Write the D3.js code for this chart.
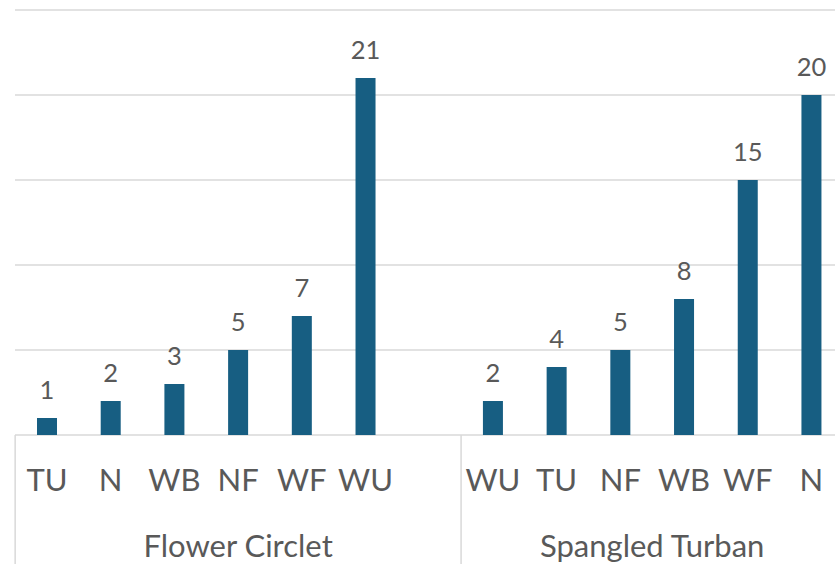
<!DOCTYPE html>
<html>
<head>
<meta charset="utf-8">
<script src="https://cdn.jsdelivr.net/npm/d3@7"></script>
<style>
  html, body { margin: 0; padding: 0; background: #fff; }
  svg { display: block; font-family: Lato, "Open Sans", sans-serif; }
</style>
</head>
<body>
<div id="chart"></div>
<script>
// ********** GROUPED BAR CHART **********

// Data
const groupNames = ['Flower Circlet', 'Spangled Turban'];
const flowerCats = ['TU', 'N', 'WB', 'NF', 'WF', 'WU', ''];
const flowerVals = [1, 2, 3, 5, 7, 21, null];
const turbanCats = ['WU', 'TU', 'NF', 'WB', 'WF', 'N'];
const turbanVals = [2, 4, 5, 8, 15, 20];
const yTicks = [0, 5, 10, 15, 20, 25];

const width = 835,
      height = 564;

const barColor = '#175e82',
      gridColor = '#d9d9d9',
      textColor = '#595959';

// Flatten into one row per slot
const rows = [];
flowerCats.forEach((c, i) => rows.push({ group: groupNames[0], cat: c, value: flowerVals[i], key: `${groupNames[0]}|${c}|${i}` }));
turbanCats.forEach((c, i) => rows.push({ group: groupNames[1], cat: c, value: turbanVals[i], key: `${groupNames[1]}|${c}|${i}` }));

const svg = d3.select('#chart')
    .append('svg')
    .attr('width', width)
    .attr('height', height);

// Scales (plot runs past the right edge, like the cropped original)
const x = d3.scaleBand()
    .domain(rows.map(d => d.key))
    .range([15.15, 843.3])
    .paddingInner(0.686)
    .paddingOuter(0.343);

const step = x.step();

const y = d3.scaleLinear()
    .domain([0, 25])
    .range([435, 10]);

// Gridlines
svg.append('g')
    .attr('class', 'grid')
    .selectAll('line')
    .data(yTicks)
    .enter()
    .append('line')
    .attr('x1', 15)
    .attr('x2', width)
    .attr('y1', d => y(d))
    .attr('y2', d => y(d))
    .attr('stroke', gridColor)
    .attr('stroke-width', 1.5);

// Bars
const barRows = rows.filter(d => d.value != null);

svg.append('g')
    .selectAll('rect')
    .data(barRows)
    .enter()
    .append('rect')
    .attr('x', d => x(d.key))
    .attr('y', d => y(d.value))
    .attr('width', x.bandwidth())
    .attr('height', d => y(0) - y(d.value))
    .attr('fill', barColor);

// Value labels
svg.append('g')
    .selectAll('text')
    .data(barRows)
    .enter()
    .append('text')
    .attr('x', d => x(d.key) + x.bandwidth() / 2)
    .attr('y', d => y(d.value) - 19)
    .attr('text-anchor', 'middle')
    .attr('font-size', '25.5px')
    .attr('fill', textColor)
    .text(d => d.value);

// Category labels
svg.append('g')
    .selectAll('text')
    .data(rows)
    .enter()
    .append('text')
    .attr('x', d => x(d.key) + x.bandwidth() / 2)
    .attr('y', 491)
    .attr('text-anchor', 'middle')
    .attr('font-size', '31px')
    .attr('fill', textColor)
    .text(d => d.cat);

// Group separators and group labels
const groupInfo = groupNames.map(g => {
    const keys = rows.filter(d => d.group === g).map(d => d.key);
    const start = x(keys[0]) - x.bandwidth() / 2 - (step - x.bandwidth()) / 2 + x.bandwidth() / 2;
    return { name: g, start: x(keys[0]) - (step - x.bandwidth()) / 2, end: x(keys[keys.length - 1]) + x.bandwidth() + (step - x.bandwidth()) / 2 };
});

svg.append('g')
    .selectAll('line')
    .data(groupInfo)
    .enter()
    .append('line')
    .attr('x1', d => d.start)
    .attr('x2', d => d.start)
    .attr('y1', y(0))
    .attr('y2', height)
    .attr('stroke', gridColor)
    .attr('stroke-width', 1.5);

svg.append('g')
    .selectAll('text')
    .data(groupInfo)
    .enter()
    .append('text')
    .attr('x', d => (d.start + d.end) / 2)
    .attr('y', 557)
    .attr('text-anchor', 'middle')
    .attr('font-size', '31px')
    .attr('fill', textColor)
    .text(d => d.name);
</script>
</body>
</html>
